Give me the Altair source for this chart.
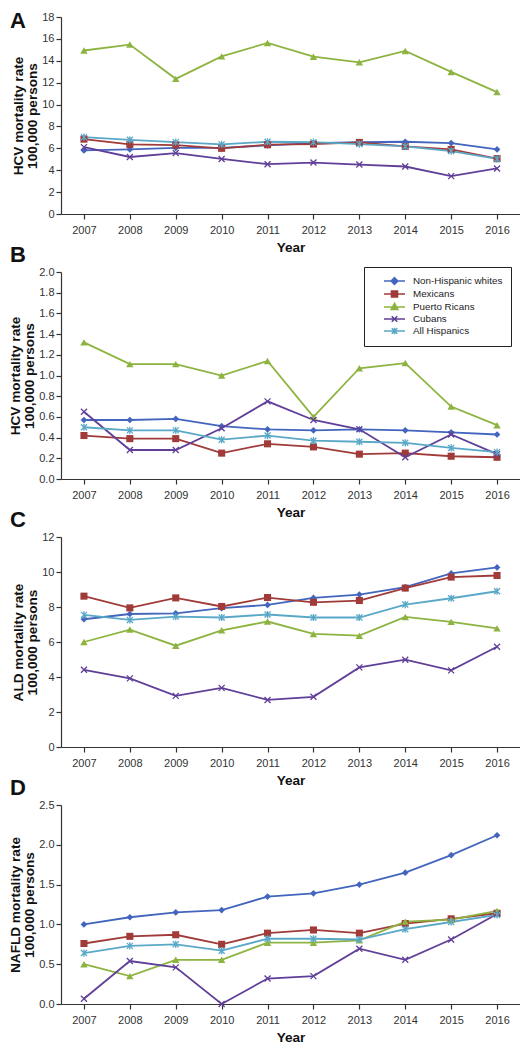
import altair as alt
import pandas as pd

years = [2007, 2008, 2009, 2010, 2011, 2012, 2013, 2014, 2015, 2016]
groups = ["Non-Hispanic whites", "Mexicans", "Puerto Ricans", "Cubans", "All Hispanics"]
colors = ["#4365BE", "#A03B39", "#8DB440", "#603F99", "#5AA8C8"]

# Panel A - HCV mortality rate
a_nhw = [5.81, 5.90, 6.05, 6.05, 6.27, 6.48, 6.57, 6.60, 6.48, 5.90]
a_mex = [6.84, 6.36, 6.30, 6.00, 6.33, 6.39, 6.54, 6.17, 5.90, 5.06]
a_pr = [14.94, 15.48, 12.35, 14.40, 15.63, 14.37, 13.86, 14.90, 12.98, 11.14]
a_cub = [6.11, 5.21, 5.57, 5.03, 4.55, 4.70, 4.52, 4.34, 3.46, 4.16]
a_all = [7.02, 6.78, 6.57, 6.36, 6.60, 6.57, 6.39, 6.17, 5.75, 5.03]

# Panel B - HCV mortality rate
b_nhw = [0.57, 0.57, 0.58, 0.51, 0.48, 0.47, 0.48, 0.47, 0.45, 0.43]
b_mex = [0.42, 0.39, 0.39, 0.25, 0.34, 0.31, 0.24, 0.25, 0.22, 0.21]
b_pr = [1.32, 1.11, 1.11, 1.00, 1.14, 0.60, 1.07, 1.12, 0.70, 0.52]
b_cub = [0.65, 0.28, 0.28, 0.49, 0.75, 0.57, 0.48, 0.21, 0.43, 0.24]
b_all = [0.50, 0.47, 0.47, 0.38, 0.42, 0.37, 0.36, 0.35, 0.30, 0.26]

# Panel C - ALD mortality rate
c_nhw = [7.30, 7.60, 7.64, 7.93, 8.12, 8.52, 8.71, 9.13, 9.92, 10.26]
c_mex = [8.62, 7.95, 8.52, 8.03, 8.54, 8.27, 8.37, 9.08, 9.71, 9.80]
c_pr = [6.00, 6.71, 5.79, 6.67, 7.17, 6.46, 6.36, 7.43, 7.15, 6.78]
c_cub = [4.41, 3.92, 2.92, 3.38, 2.69, 2.87, 4.55, 4.99, 4.38, 5.73]
c_all = [7.55, 7.26, 7.45, 7.40, 7.57, 7.40, 7.40, 8.14, 8.50, 8.90]

# Panel D - NAFLD mortality rate
d_nhw = [1.00, 1.09, 1.15, 1.18, 1.35, 1.39, 1.50, 1.65, 1.87, 2.12]
d_mex = [0.76, 0.85, 0.87, 0.75, 0.89, 0.93, 0.89, 1.01, 1.07, 1.14]
d_pr = [0.50, 0.35, 0.555, 0.555, 0.77, 0.77, 0.80, 1.035, 1.06, 1.17]
d_cub = [0.066, 0.54, 0.46, 0.0, 0.32, 0.35, 0.695, 0.555, 0.81, 1.13]
d_all = [0.64, 0.73, 0.75, 0.67, 0.82, 0.82, 0.81, 0.94, 1.03, 1.12]

ticks_a = [0, 2, 4, 6, 8, 10, 12, 14, 16, 18]
ticks_b = [0.0, 0.2, 0.4, 0.6, 0.8, 1.0, 1.2, 1.4, 1.6, 1.8, 2.0]
ticks_c = [0, 2, 4, 6, 8, 10, 12]
ticks_d = [0.0, 0.5, 1.0, 1.5, 2.0, 2.5]

marker_shapes = ["diamond", "square", "triangle-up",
                 "M-1,-1L1,1M-1,1L1,-1",
                 "M-1,-1L1,1M-1,1L1,-1M0,-1.2L0,1.2"]
marker_filled = [True, True, True, False, False]
marker_sizes = [45, 50, 55, 36, 36]

# legend glyphs: short line with the series marker, drawn right of the symbol slot
legend_paths = [
    "M1.2,0L5.4,0M3.3,-0.66L3.96,0L3.3,0.66L2.64,0ZM3.3,-0.33L3.63,0L3.3,0.33L2.97,0Z",
    "M1.2,0L5.4,0M2.7,-0.6L3.9,-0.6L3.9,0.6L2.7,0.6ZM3.03,-0.27L3.57,-0.27L3.57,0.27L3.03,0.27Z",
    "M1.2,0L5.4,0M3.3,-0.72L3.96,0.5L2.64,0.5ZM3.3,-0.27L3.57,0.27L3.03,0.27Z",
    "M1.2,0L5.4,0M2.75,-0.55L3.85,0.55M2.75,0.55L3.85,-0.55",
    "M1.2,0L5.4,0M2.75,-0.55L3.85,0.55M2.75,0.55L3.85,-0.55M3.3,-0.66L3.3,0.66",
]


def long_df(series):
    rows = []
    for g, vals in zip(groups, series):
        for yr, v in zip(years, vals):
            rows.append({"Year": yr, "Group": g, "Value": v})
    return pd.DataFrame(rows)


def panel(series, letter, ytitle, ticks, fmt, height, letter_y, with_legend=False):
    df = long_df(series)
    base = alt.Chart(df)
    x = alt.X("Year:Q",
              scale=alt.Scale(domain=[2006.5, 2016.5], nice=False, zero=False),
              axis=alt.Axis(values=years, format="d", title="Year", grid=False,
                            labelPadding=5, titlePadding=5))
    y = alt.Y("Value:Q",
              scale=alt.Scale(domain=[ticks[0], ticks[-1]], nice=False),
              axis=alt.Axis(values=ticks, format=fmt, title=ytitle, grid=False,
                            labelPadding=2, titlePadding=2, titleLineHeight=14))
    cscale = alt.Scale(domain=groups, range=colors)
    layers = []
    if with_legend:
        leg = alt.Legend(
            title=None, orient="none", legendX=303, legendY=-5,
            padding=8, strokeColor="#222", fillColor="white",
            labelFontSize=9.8, labelColor="#222", labelFont="Liberation Sans",
            symbolSize=100, symbolStrokeWidth=1.6,
            labelOffset=29, rowPadding=-3.2,
        )
        layers.append(
            base.mark_point(opacity=0, filled=False, strokeWidth=1.6).encode(
                x=x, y=y,
                color=alt.Color("Group:N", scale=cscale, legend=leg),
                shape=alt.Shape("Group:N", scale=alt.Scale(domain=groups, range=legend_paths), legend=leg),
            )
        )
    layers.append(base.mark_line(strokeWidth=1.8).encode(
        x=x, y=y, color=alt.Color("Group:N", scale=cscale, legend=None)))
    for g, shp, fl, sz in zip(groups, marker_shapes, marker_filled, marker_sizes):
        layers.append(
            base.transform_filter(alt.datum.Group == g)
            .mark_point(shape=shp, filled=fl, size=sz, opacity=1, strokeWidth=1.3)
            .encode(x=x, y=y, color=alt.Color("Group:N", scale=cscale, legend=None))
        )
    # panel letter
    layers.append(
        alt.Chart(pd.DataFrame({"panel": [letter]}))
        .mark_text(align="left", baseline="alphabetic", fontSize=22, fontWeight="bold",
                   font="Liberation Sans", color="#111")
        .encode(text="panel:N", x=alt.value(-51), y=alt.value(letter_y))
    )
    return alt.layer(*layers).properties(width=459, height=height)


pA = panel([a_nhw, a_mex, a_pr, a_cub, a_all], "A",
           ["HCV mortality rate", "100,000 persons"], ticks_a, "d", 197, 11)
pB = panel([b_nhw, b_mex, b_pr, b_cub, b_all], "B",
           ["HCV mortality rate", "100,000 persons"], ticks_b, ".1f", 207, -10, with_legend=True)
pC = panel([c_nhw, c_mex, c_pr, c_cub, c_all], "C",
           ["ALD mortality rate", "100,000 persons"], ticks_c, "d", 210, -10)
pD = panel([d_nhw, d_mex, d_pr, d_cub, d_all], "D",
           ["NAFLD mortality rate", "100,000 persons"], ticks_d, ".1f", 199, -10)

chart = alt.vconcat(pA, pB, pC, pD, spacing=-10).resolve_scale(
    color="independent", shape="independent"
).properties(
    padding={"left": 0, "top": 2, "right": 0, "bottom": 0}
).configure(
    font="Liberation Sans"
).configure_view(
    stroke=None
).configure_axis(
    labelFontSize=11, labelColor="#333", labelFont="Liberation Sans",
    titleFontSize=13.6, titleFontWeight="bold", titleColor="#111", titleFont="Liberation Sans",
    domainColor="#333", domainWidth=1.2, tickColor="#333", tickWidth=1.2, tickSize=5,
)

chart.save("out.html", embed_options={"renderer": "svg", "actions": False})
